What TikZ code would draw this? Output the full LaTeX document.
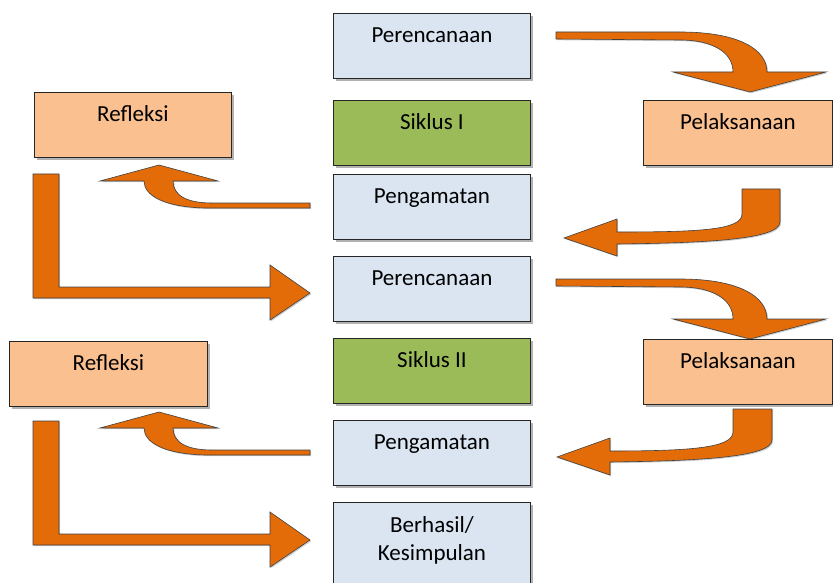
\documentclass[tikz,border=0pt]{standalone}
\usepackage{fontspec}
\setmainfont{Carlito}
\usetikzlibrary{shadows}
\definecolor{cblue}{HTML}{DBE5F1}
\definecolor{cgreen}{HTML}{9BBB59}
\definecolor{cpeach}{HTML}{FAC090}
\definecolor{corange}{HTML}{E36C09}
\begin{document}
\begin{tikzpicture}[x=1pt,y=-1pt,
  box/.style={rectangle, draw=black!85, line width=0.9pt, anchor=north west,
    inner sep=0pt, text height=15pt, text depth=21pt,
    font=\fontsize{23}{28}\selectfont,
    drop shadow={shadow xshift=2.5pt, shadow yshift=-2.5pt, opacity=0.3, fill=black}},
  cbox/.style={box, fill=cblue, minimum width=197pt, minimum height=65pt},
  gbox/.style={box, fill=cgreen, minimum width=197pt, minimum height=65pt},
  pbox/.style={box, fill=cpeach, minimum width=#1, minimum height=65pt},
  arr/.style={fill=corange, draw=black!75, line width=0.6pt, line join=miter,
    drop shadow={shadow xshift=1.2pt, shadow yshift=-1.2pt, opacity=0.2, fill=black}}]
\useasboundingbox (0,0) rectangle (833,583);
\clip (0,0) rectangle (833,583);

% centre column
\node[cbox] (p1) at (333,13) {Perencanaan};
\node[gbox] (s1) at (333,100) {Siklus I};
\node[cbox] (g1) at (333,174) {Pengamatan};
\node[cbox] (p2) at (333,256) {Perencanaan};
\node[gbox] (s2) at (333,338) {Siklus II};
\node[cbox] (g2) at (333,420) {Pengamatan};
\node[cbox, minimum height=100pt, text depth=54pt] (b) at (333,502)
  {\setlength{\tabcolsep}{0pt}\begin{tabular}[t]{c}Berhasil/\\Kesimpulan\end{tabular}};

% side boxes
\node[pbox=197pt] (r1) at (34,92) {Refleksi};
\node[pbox=198pt] (r2) at (9,341) {Refleksi};
\node[pbox=189pt] (e1) at (643,100) {Pelaksanaan};
\node[pbox=189pt] (e2) at (643,339) {Pelaksanaan};

% right curved arrows (down)
\foreach \dy in {0,247}{
  \begin{scope}[yshift=-\dy pt]
  \path[arr] (556,32) -- (680,32) .. controls (740,32) and (767,50) .. (767,72)
    -- (826,72) -- (750,92) -- (673,72) -- (733,72)
    .. controls (733,52) and (712,40) .. (680,40) -- (556,39) -- cycle;
  \end{scope}}

% right curved arrows (left)
\path[arr] (742,189) -- (780,189) -- (780,222)
  .. controls (780,240) and (700,243) .. (617,244)
  -- (617,256) -- (564,238) -- (617,219) -- (617,232)
  .. controls (700,232) and (742,230) .. (742,214) -- cycle;
\path[arr] (733,409) -- (772,409) -- (772,440)
  .. controls (772,458) and (690,461) .. (610,462)
  -- (610,475) -- (557,457) -- (610,438) -- (610,451)
  .. controls (690,451) and (733,448) .. (733,432) -- cycle;

% left curved arrows (up)
\foreach \dy in {0,247}{
  \begin{scope}[yshift=-\dy pt]
  \path[arr] (310,203) -- (310,208) -- (205,208)
    .. controls (165,207) and (144,196) .. (144,181)
    -- (100,181) -- (159,165) -- (218,181) -- (173,181)
    .. controls (173,195) and (186,203) .. (212,203) -- cycle;
  \end{scope}}

% left L-shaped arrows
\foreach \dy in {0,247}{
  \begin{scope}[yshift=-\dy pt]
  \path[arr] (33,174) -- (33,298) -- (270,298) -- (270,320) -- (310,293)
    -- (270,265) -- (270,287) -- (59,287) -- (59,174) -- cycle;
  \end{scope}}
\end{tikzpicture}
\end{document}
